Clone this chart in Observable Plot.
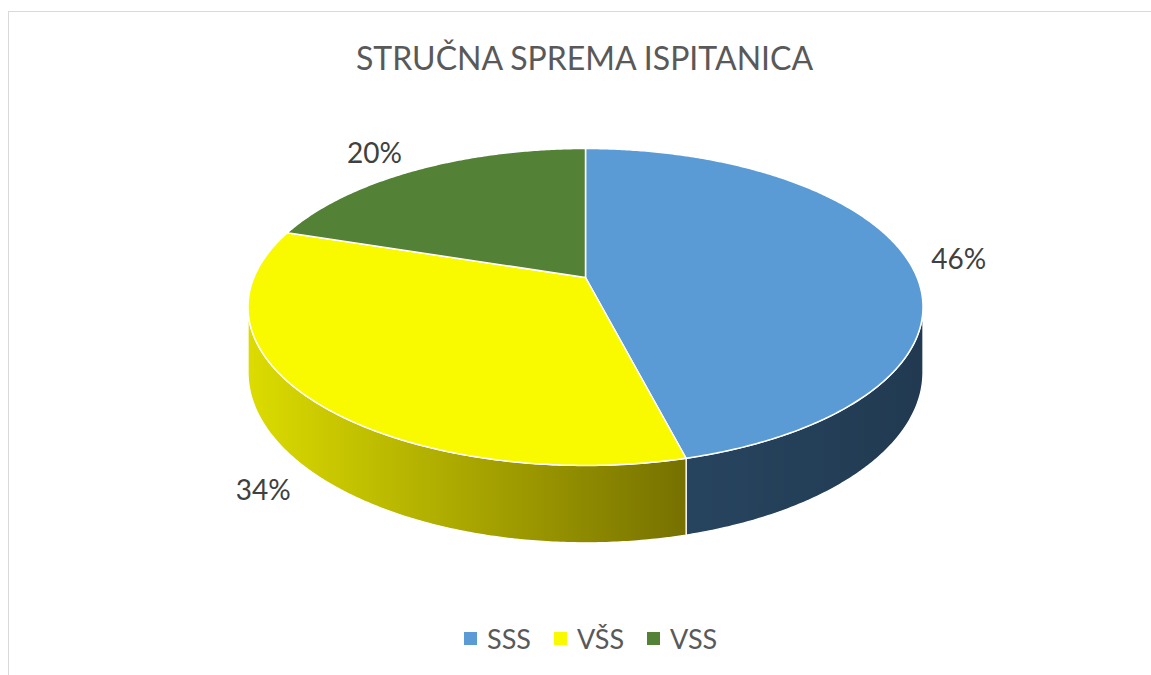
<!DOCTYPE html>
<html><head><meta charset="utf-8">
<script src="https://cdn.jsdelivr.net/npm/d3@7"></script>
<script src="https://cdn.jsdelivr.net/npm/@observablehq/plot@0.6"></script>
<style>
html,body{margin:0;padding:0;background:#fff;}
#wrap{position:relative;width:1151px;height:675px;overflow:hidden;font-family:Lato,"Open Sans",sans-serif;}
#frame{position:absolute;left:8px;top:11px;width:1300px;height:800px;border:1.5px solid #d9d9d9;box-sizing:border-box;}
#title{position:absolute;left:0;width:1169px;top:42px;text-align:center;font-size:32px;line-height:1;color:#595959;white-space:nowrap;}
#chart{position:absolute;left:0;top:0;}
#legend{position:absolute;left:464px;top:625px;display:flex;align-items:center;font-size:27px;color:#595959;line-height:1;}
.item{display:flex;align-items:center;margin-right:23px;}
.sw{width:13px;height:13px;margin-right:10px;}
</style>
</head><body>
<div id="wrap">
  <div id="frame"></div>
  <div id="chart"></div>
  <div id="title"></div>
  <div id="legend"></div>
</div>
<script>
const titleText = "STRUČNA SPREMA ISPITANICA";
const categories = ["SSS", "VŠS", "VSS"];
const values = [46, 34, 20];
const valueLabels = ["46%", "34%", "20%"];
const topColors = ["#5b9bd5", "#f9f900", "#538135"];
const sideColorsLight = ["#27445f", "#dcdc00", "#3d6127"];
const sideColorsDark = ["#213a51", "#767100", "#2f4b1e"];

const W = 1151, H = 675;
// projected 3D pie geometry (perspective tilt)
const cx = 585, cy = 277, A = 331.6, B = 153, k = 0.186, depth = 63;
const labelGap = 25, labelHalfWidth = 27;

function proj(theta, r = 1, drop = 0) {
  const c = Math.cos(theta), s = Math.sin(theta), w = 1 + k * r * c;
  return {x: cx + A * r * s / w, y: cy - B * r * c / w + drop * depth / w};
}
function arc(a, b, drop) {
  const n = Math.max(2, Math.ceil(Math.abs(b - a) / (Math.PI / 360)));
  const pts = [];
  for (let i = 0; i <= n; i++) pts.push(proj(a + (b - a) * i / n, 1, drop));
  return pts;
}

const total = d3.sum(values);
let acc = 0;
const slices = values.map((v, i) => {
  const a = acc / total * 2 * Math.PI;
  acc += v;
  const b = acc / total * 2 * Math.PI;
  return {i, a, b, mid: (a + b) / 2};
});

const thetaS = Math.acos(-k); // silhouette angle
const sidePolys = [];
const topPolys = [];
slices.forEach(s => {
  const a = Math.max(s.a, thetaS), b = Math.min(s.b, 2 * Math.PI - thetaS);
  if (b > a) {
    const top = arc(a, b, 0), bot = arc(b, a, 1);
    sidePolys.push({i: s.i, poly: [...top, ...bot, top[0]]});
  }
  const c = {x: cx, y: cy};
  topPolys.push({i: s.i, poly: [c, ...arc(s.a, s.b, 0), c]});
});

const labelData = slices.map(s => {
  const c = Math.cos(s.mid), sn = Math.sin(s.mid);
  const p = proj(s.mid, 1, c < 0 ? 1 : 0);
  return {
    x: p.x + Math.sign(sn) * labelHalfWidth + labelGap * sn,
    y: p.y - labelGap * c,
    text: valueLabels[s.i]
  };
});

const marks = [];
sidePolys.forEach(d => marks.push(Plot.line(d.poly, {
  x: "x", y: "y", fill: `url(#side${d.i})`, stroke: "white", strokeWidth: 1.3, strokeLinejoin: "round"
})));
topPolys.forEach(d => marks.push(Plot.line(d.poly, {
  x: "x", y: "y", fill: topColors[d.i], stroke: "white", strokeWidth: 1.5, strokeLinejoin: "round"
})));
marks.push(Plot.text(labelData, {x: "x", y: "y", text: "text", fontSize: 28, fill: "#404040", textAnchor: "middle", dy: 4}));

const plot = Plot.plot({
  width: W, height: H, margin: 0,
  x: {domain: [0, W], range: [0, W], axis: null},
  y: {domain: [0, H], range: [0, H], axis: null},
  style: {background: "transparent", fontFamily: "Lato, 'Open Sans', sans-serif"},
  marks
});

// gradient defs for the side faces
const ns = "http://www.w3.org/2000/svg";
const defs = document.createElementNS(ns, "defs");
categories.forEach((_, i) => {
  const g = document.createElementNS(ns, "linearGradient");
  g.setAttribute("id", `side${i}`);
  g.setAttribute("x1", "0"); g.setAttribute("x2", "1"); g.setAttribute("y1", "0"); g.setAttribute("y2", "0");
  [[0, sideColorsLight[i]], [1, sideColorsDark[i]]].forEach(([o, col]) => {
    const st = document.createElementNS(ns, "stop");
    st.setAttribute("offset", o); st.setAttribute("stop-color", col);
    g.appendChild(st);
  });
  defs.appendChild(g);
});
plot.insertBefore(defs, plot.firstChild);
document.getElementById("chart").appendChild(plot);

document.getElementById("title").textContent = titleText;
const legend = document.getElementById("legend");
categories.forEach((c, i) => {
  const item = document.createElement("div");
  item.className = "item";
  const sw = document.createElement("div");
  sw.className = "sw"; sw.style.background = topColors[i];
  const t = document.createElement("span");
  t.textContent = c;
  item.appendChild(sw); item.appendChild(t);
  legend.appendChild(item);
});
</script>
</body></html>
